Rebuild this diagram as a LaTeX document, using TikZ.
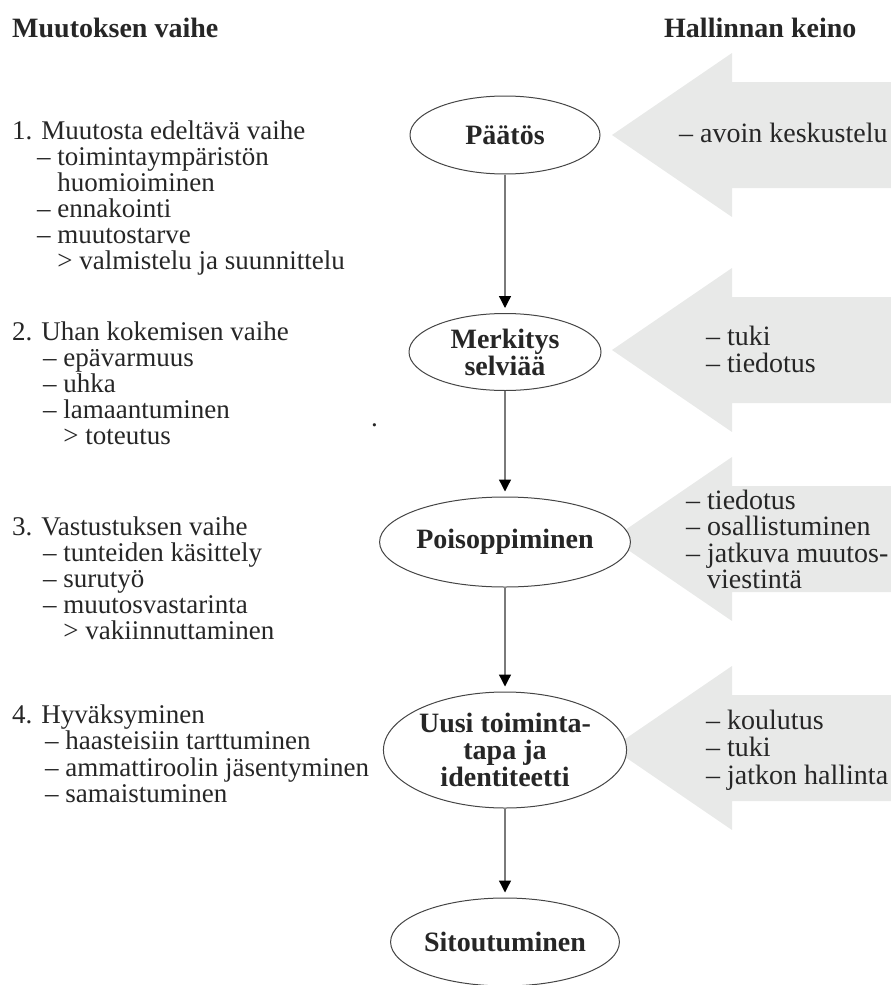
\documentclass[tikz,border=0pt]{standalone}
\usepackage{fontspec}
\setmainfont{Liberation Serif}
\usetikzlibrary{shapes.geometric,arrows.meta}
\definecolor{ink}{HTML}{262626}
\definecolor{edge}{HTML}{454545}
\definecolor{linegray}{HTML}{7A7A7A}
\definecolor{arrowgray}{HTML}{E8E9E8}
\begin{document}
\begin{tikzpicture}[x=1pt,y=-1pt,
  ltxt/.style={anchor=base west,inner sep=0pt,text=ink,font=\fontsize{27}{26}\selectfont},
  rtxt/.style={anchor=base west,inner sep=0pt,text=ink,font=\fontsize{28}{27}\selectfont},
  hdr/.style={anchor=base west,inner sep=0pt,text=ink,font=\fontsize{28}{28}\selectfont\bfseries},
  phase/.style={ellipse,draw=edge,line width=1pt,fill=white,inner sep=0pt,align=center,text=ink,
    font=\fontsize{28}{27}\selectfont\bfseries},
  flow/.style={draw=linegray,line width=1.3pt,shorten >=5pt,-{Triangle[width=12pt,length=12pt,color=black]}},
  tool/.style={fill=arrowgray,draw=none}]
\useasboundingbox (0,0) rectangle (891,985);
\clip (0,0) rectangle (891,985);

% grey management arrows
\foreach \ty in {135,350,539,748}{
  \fill[tool] (900,\ty-53) -- (732,\ty-53) -- (732,\ty-82) -- (612,\ty)
    -- (732,\ty+82) -- (732,\ty+53) -- (900,\ty+53) -- cycle;
}

% headers
\node[hdr] (h1) at (12,37) {Muutoksen vaihe};
\node[hdr] (h2) at (664,37) {Hallinnan keino};

% phase ellipses
\node[phase,minimum width=190pt,minimum height=78pt] (p1) at (505,135) {Päätös};
\node[phase,minimum width=192pt,minimum height=77pt] (p2) at (505,352) {Merkitys\\selviää};
\node[phase,minimum width=216pt,minimum height=90pt] (p3) at (505,542) {Poisoppiminen};
\node[phase,minimum width=216pt,minimum height=116pt] (p4) at (505,750) {Uusi toiminta-\\tapa ja\\identiteetti};
\node[phase,minimum width=218pt,minimum height=88pt] (p5) at (505,942) {Sitoutuminen};

\draw[flow] (p1.south) -- (p2.north);
\draw[flow] (p2.south) -- (p3.north);
\draw[flow] (p3.south) -- (p4.north);
\draw[flow] (p4.south) -- (p5.north);

% left column
\node[ltxt] (a1) at (12,139) {1. Muutosta edeltävä vaihe};
\node[ltxt] (a2) at (37,165) {– toimintaympäristön};
\node[ltxt] (a3) at (37,191) {\hphantom{– }huomioiminen};
\node[ltxt] (a4) at (37,217) {– ennakointi};
\node[ltxt] (a5) at (37,243) {– muutostarve};
\node[ltxt] (a6) at (37,269) {\hphantom{– }> valmistelu ja suunnittelu};

\node[ltxt] (b1) at (12,340) {2. Uhan kokemisen vaihe};
\node[ltxt] (b2) at (43,366) {– epävarmuus};
\node[ltxt] (b3) at (43,392) {– uhka};
\node[ltxt] (b4) at (43,418) {– lamaantuminen};
\node[ltxt] (b5) at (43,444) {\hphantom{– }> toteutus};
\node[ltxt] (dot) at (371,426) {.};

\node[ltxt] (c1) at (12,535) {3. Vastustuksen vaihe};
\node[ltxt] (c2) at (43,561) {– tunteiden käsittely};
\node[ltxt] (c3) at (43,587) {– surutyö};
\node[ltxt] (c4) at (43,613) {– muutosvastarinta};
\node[ltxt] (c5) at (43,639) {\hphantom{– }> vakiinnuttaminen};

\node[ltxt] (d1) at (12,723) {4. Hyväksyminen};
\node[ltxt] (d2) at (45,749.5) {– haasteisiin tarttuminen};
\node[ltxt] (d3) at (45,776) {– ammattiroolin jäsentyminen};
\node[ltxt] (d4) at (45,802.5) {– samaistuminen};

% right column
\node[rtxt] (r1) at (679,142) {– avoin keskustelu};
\node[rtxt] (r2) at (706,345) {– tuki};
\node[rtxt] (r3) at (706,372) {– tiedotus};
\node[rtxt] (r4) at (686,509) {– tiedotus};
\node[rtxt] (r5) at (686,535.5) {– osallistuminen};
\node[rtxt] (r6) at (686,562) {– jatkuva muutos-};
\node[rtxt] (r7) at (686,588.5) {\hphantom{– }viestintä};
\node[rtxt] (r8) at (706,729) {– koulutus};
\node[rtxt] (r9) at (706,756.5) {– tuki};
\node[rtxt] (r10) at (706,784) {– jatkon hallinta};
\end{tikzpicture}
\end{document}
